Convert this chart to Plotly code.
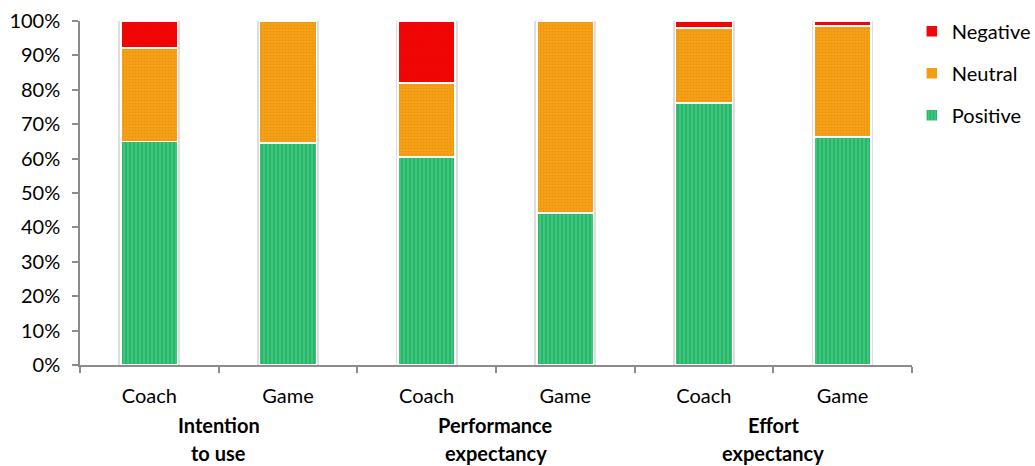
import plotly.graph_objects as go

categories = ["Coach", "Game", "Coach", "Game", "Coach", "Game"]
groups = [("Intention", "to use"), ("Performance", "expectancy"), ("Effort", "expectancy")]
positive = [65.0, 64.5, 60.5, 44.2, 76.2, 66.3]
neutral = [27.2, 35.5, 21.5, 55.8, 21.8, 32.2]
negative = [7.8, 0.0, 18.0, 0.0, 2.0, 1.5]
yticks = [0, 10, 20, 30, 40, 50, 60, 70, 80, 90, 100]

FONT = "Lato"
FS = 20
x = list(range(len(categories)))
BW = 0.41

fig = go.Figure()

# soft shadow behind each bar (on base axis, drawn beneath)
totals = [(p + n + g) / 100 for p, n, g in zip(positive, neutral, negative)]
fig.add_trace(go.Bar(
    x=x, y=totals, width=BW, xaxis="x", yaxis="y", showlegend=False, hoverinfo="skip",
    marker=dict(color="white", line=dict(color="rgba(0,0,0,0.13)", width=5)),
))

series = [
    ("Positive", positive, 3, dict(color="#3ec67f", pattern=dict(shape="|", fgcolor="#10a050", bgcolor="#3ec67f", size=4, solidity=0.45))),
    ("Neutral", neutral, 2, dict(color="#f59a00", pattern=dict(shape=".", fgcolor="#e08600", bgcolor="#f7a21a", size=3, solidity=0.4))),
    ("Negative", negative, 1, dict(color="#ee0000", pattern=dict(shape="/", fgcolor="#e60000", bgcolor="#f20606", size=3, solidity=0.3))),
]
for name, vals, rank, mk in series:
    mk = dict(mk)
    mk["line"] = dict(color="white", width=1.5)
    fig.add_trace(go.Bar(
        x=x, y=[v / 100 for v in vals], name=name, marker=mk, width=BW,
        legendgroup=name, legendrank=rank, xaxis="x2", yaxis="y",
    ))

for i, (l1, l2) in enumerate(groups):
    for j, line in enumerate((l1, l2)):
        fig.add_annotation(
            x=2 * i + 0.5, y=0, xref="x", yref="paper", yanchor="middle", yshift=-60 - 28 * j,
            text="<b>" + line + "</b>", showarrow=False,
            font=dict(family=FONT, size=FS, color="#000"), align="center",
        )

axis_common = dict(
    range=[-0.5, 5.5], showgrid=False, zeroline=False, automargin=False,
)
fig.update_layout(
    width=1035, height=466,
    barmode="stack",
    paper_bgcolor="white", plot_bgcolor="white",
    margin=dict(l=80, r=123, t=21, b=101),
    font=dict(family=FONT, size=FS, color="#000"),
    showlegend=True,
    legend=dict(
        xref="container", yref="container",
        x=0.881, y=0.975, xanchor="left", yanchor="top",
        traceorder="grouped", tracegroupgap=13,
        font=dict(family=FONT, size=FS, color="#000"),
        itemwidth=30,
    ),
    xaxis=dict(
        **axis_common,
        tickmode="array", tickvals=x, ticktext=categories,
        ticks="", showline=True, linecolor="#8c8c8c", linewidth=1.5,
        ticklabelstandoff=12,
        tickfont=dict(family=FONT, size=FS),
        minor=dict(tickmode="linear", tick0=-0.5, dtick=1, ticks="outside", ticklen=6, tickcolor="#8c8c8c", tickwidth=1.5, showgrid=False),
    ),
    xaxis2=dict(
        **axis_common, overlaying="x", anchor="y", visible=False,
    ),
    yaxis=dict(
        range=[0, 1], tickmode="array", tickvals=[v / 100 for v in yticks],
        ticktext=[f"{v}%" for v in yticks],
        ticks="outside", ticklen=6, tickcolor="#8c8c8c", tickwidth=1.5,
        showline=True, linecolor="#8c8c8c", linewidth=1.5,
        showgrid=False, zeroline=False, ticklabelstandoff=8, automargin=False,
        tickfont=dict(family=FONT, size=FS),
    ),
)

fig.write_html("out.html")
